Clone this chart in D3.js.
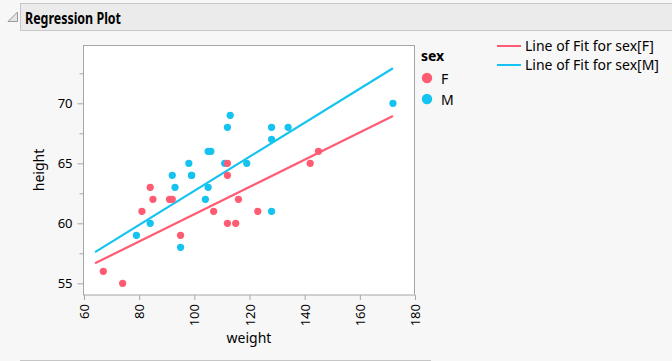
<!DOCTYPE html>
<html>
<head>
<meta charset="utf-8">
<script src="https://cdn.jsdelivr.net/npm/d3@7"></script>
<style>
  body { margin: 0; background: #f7f7f7; }
  text { font-family: "Noto Sans", "Open Sans", sans-serif; fill: #000; }
</style>
</head>
<body>
<div id="chart"></div>
<script>
// data
const femaleWeight = [95, 123, 74, 145, 112, 107, 67, 81, 91, 142, 84, 85, 92, 112, 112, 115, 116];
const femaleHeight = [59, 61, 55, 66, 60, 61, 56, 61, 62, 65, 63, 62, 62, 64, 65, 60, 62];
const maleWeight = [84, 128, 98, 105, 95, 79, 93, 99, 119, 92, 112, 99, 113, 128, 111, 105, 104, 106, 128, 134, 172];
const maleHeight = [60, 61, 65, 63, 58, 59, 63, 64, 65, 64, 68, 64, 69, 67, 65, 66, 62, 66, 68, 68, 70];

// line of fit end points (weight, height)
const fitWeight = [64, 172];
const fitF = [56.67, 68.94];
const fitM = [57.6, 72.92];

const xTicks = [60, 80, 100, 120, 140, 160, 180];
const yTicks = [55, 60, 65, 70];
const yMinor = [57.5, 62.5, 67.5, 72.5];

const colF = "#ff5b73", colM = "#14c3f0";

let width = 672, height = 361;
let plot = { left: 83.5, top: 45.5, right: 414.5, bottom: 295 };

let svg = d3.select("#chart").append("svg")
  .attr("width", width)
  .attr("height", height)
  .style("background-color", "#f7f7f7");

// header
svg.append("rect")
  .attr("x", 20.5).attr("y", 3.5)
  .attr("width", 660).attr("height", 27)
  .attr("fill", "#ebebeb").attr("stroke", "#c6c6c6");
svg.append("path")
  .attr("d", "M8,21.5 L17.5,21.5 L17.5,12 Z")
  .attr("fill", "#e4e4e4").attr("stroke", "#9a9a9a");
svg.append("text")
  .attr("x", 25).attr("y", 23.5)
  .style("font-weight", "bold").style("font-size", "16.5px")
  .attr("textLength", 96).attr("lengthAdjust", "spacingAndGlyphs")
  .text("Regression Plot");

// bottom rule
svg.append("line")
  .attr("x1", 20).attr("x2", 431).attr("y1", 360.5).attr("y2", 360.5)
  .attr("stroke", "#c6c6c6");

let x = d3.scaleLinear().domain([60, 180]).range([84, 415]);
let y = d3.scaleLinear().domain([55, 70]).range([283.3, 103.3]);

svg.append("rect")
  .attr("x", plot.left).attr("y", plot.top)
  .attr("width", plot.right - plot.left).attr("height", plot.bottom - plot.top)
  .attr("fill", "white").attr("stroke", "#a6a6a6");

// y axis
let yAxis = svg.append("g")
  .attr("transform", `translate(${plot.left},0)`)
  .call(d3.axisLeft(y).tickValues(yTicks).tickSize(6).tickPadding(5).tickFormat(d3.format("d")));
yAxis.select(".domain").remove();
yAxis.selectAll("line").attr("stroke", "#a6a6a6");
yAxis.selectAll("text").style("font-size", "13px").attr("fill", "#000");
svg.append("g")
  .attr("transform", `translate(${plot.left},0)`)
  .call(d3.axisLeft(y).tickValues(yMinor).tickSize(4).tickFormat(""))
  .call(g => g.select(".domain").remove())
  .selectAll("line").attr("stroke", "#a6a6a6");

// x axis
let xAxis = svg.append("g")
  .attr("transform", `translate(0,${plot.bottom})`)
  .call(d3.axisBottom(x).tickValues(xTicks).tickSize(5).tickFormat(d3.format("d")));
xAxis.select(".domain").remove();
xAxis.selectAll("line").attr("stroke", "#a6a6a6");
xAxis.selectAll("text")
  .style("font-size", "13px").attr("fill", "#000")
  .attr("text-anchor", "end")
  .attr("transform", "rotate(-90)")
  .attr("x", -9).attr("y", 0).attr("dy", "0.35em");

svg.append("text")
  .attr("x", 249).attr("y", 343)
  .attr("text-anchor", "middle").style("font-size", "14px")
  .text("weight");
svg.append("text")
  .attr("transform", "translate(44,170) rotate(-90)")
  .attr("text-anchor", "middle").style("font-size", "14px")
  .text("height");

// fit lines
let fits = [{ h: fitF, c: colF }, { h: fitM, c: colM }];
svg.append("g").selectAll("line")
  .data(fits)
  .join("line")
  .attr("x1", x(fitWeight[0])).attr("x2", x(fitWeight[1]))
  .attr("y1", d => y(d.h[0])).attr("y2", d => y(d.h[1]))
  .attr("stroke", d => d.c).attr("stroke-width", 2.2);

// points
let males = maleWeight.map((w, i) => ({ w, h: maleHeight[i] }));
let females = femaleWeight.map((w, i) => ({ w, h: femaleHeight[i] }));
svg.append("g").selectAll("circle")
  .data(males).join("circle")
  .attr("cx", d => x(d.w)).attr("cy", d => y(d.h)).attr("r", 3.6)
  .attr("fill", colM);
svg.append("g").selectAll("circle")
  .data(females).join("circle")
  .attr("cx", d => x(d.w)).attr("cy", d => y(d.h)).attr("r", 3.6)
  .attr("fill", colF);

// legend: sex
svg.append("text")
  .attr("x", 421).attr("y", 61)
  .style("font-weight", "bold").style("font-size", "14px")
  .text("sex");
let sexes = [{ k: "F", c: colF }, { k: "M", c: colM }];
let lg = svg.append("g").selectAll("g")
  .data(sexes).join("g")
  .attr("transform", (d, i) => `translate(427,${78 + i * 21})`);
lg.append("circle").attr("r", 5.2).attr("fill", d => d.c);
lg.append("text").attr("x", 14).attr("y", 5.5)
  .style("font-size", "14px").text(d => d.k);

// legend: lines of fit
let ll = svg.append("g").selectAll("g")
  .data(sexes).join("g")
  .attr("transform", (d, i) => `translate(497,${46 + i * 19})`);
ll.append("line").attr("x1", 0).attr("x2", 24)
  .attr("stroke", d => d.c).attr("stroke-width", 2);
ll.append("text").attr("x", 28).attr("y", 5)
  .style("font-size", "14px").text(d => `Line of Fit for sex[${d.k}]`);
</script>
</body>
</html>
